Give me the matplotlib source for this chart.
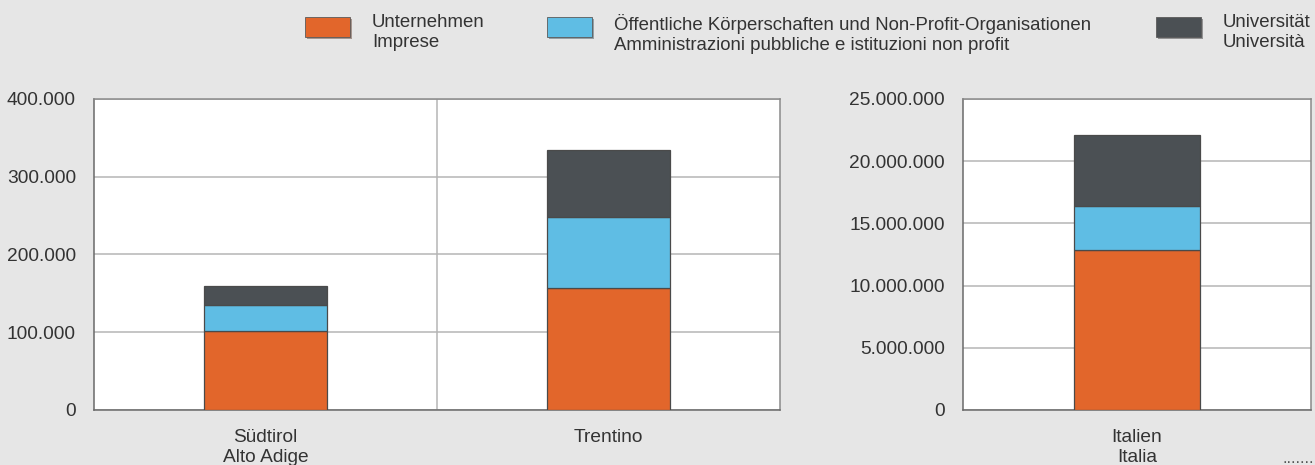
import matplotlib.pyplot as plt
import matplotlib.patches as mpatches
import matplotlib.patheffects as pe
from matplotlib.ticker import FuncFormatter
import numpy as np

plt.rcParams['font.family'] = ['Liberation Sans', 'DejaVu Sans']

# data
regions = ["Südtirol\nAlto Adige", "Trentino"]
imprese_reg = [101000, 157000]
pubblico_reg = [34000, 91000]
univ_reg = [25000, 86000]

country = ["Italien\nItalia"]
imprese_it = [12860000]
pubblico_it = [3540000]
univ_it = [5700000]

legend_labels = ["Unternehmen\nImprese",
                 "Öffentliche Körperschaften und Non-Profit-Organisationen\nAmministrazioni pubbliche e istituzioni non profit",
                 "Universität\nUniversità"]

colors = ["#e2662b", "#5fbde4", "#4b5054"]
bg = "#e6e6e6"
txt = "#333333"
fs = 13.8


def dotfmt(v, pos):
    return "{:,.0f}".format(v).replace(",", ".")


def draw_stack(ax, cats, a, b, c, ymax, step):
    x = np.arange(len(cats))
    w = 0.36
    bottom = np.zeros(len(cats))
    for vals, col in zip([a, b, c], colors):
        ax.bar(x, vals, w, bottom=bottom, color=col, edgecolor="#4a4a4a",
               linewidth=0.9, zorder=3)
        bottom = bottom + np.array(vals)
    ax.set_xlim(-0.5, len(cats) - 0.5)
    ax.set_ylim(0, ymax)
    ax.set_yticks(np.arange(0, ymax + 1, step))
    ax.yaxis.set_major_formatter(FuncFormatter(dotfmt))
    ax.set_xticks(x)
    ax.set_xticklabels(cats, fontsize=fs, color=txt, linespacing=1.2)
    ax.tick_params(axis="y", labelsize=fs, labelcolor=txt, length=0, pad=13)
    ax.tick_params(axis="x", length=0, pad=14)
    ax.grid(axis="y", color="#b5b5b5", linewidth=1.1, zorder=1)
    for k in range(1, len(cats)):
        ax.axvline(k - 0.5, color="#b5b5b5", linewidth=1.1, zorder=1)
    ax.set_facecolor("white")
    for s in ax.spines.values():
        s.set_color("#8a8a8a")
        s.set_linewidth(1.1)
    ax.spines["left"].set_color("#6a6a6a")
    ax.spines["bottom"].set_color("#6a6a6a")


fig = plt.figure(figsize=(13.15, 4.65), dpi=100, facecolor=bg)

ax1 = fig.add_axes([0.0715, 0.1183, 0.5215, 0.6688])
draw_stack(ax1, regions, imprese_reg, pubblico_reg, univ_reg, 400000, 100000)

ax2 = fig.add_axes([0.7323, 0.1183, 0.2647, 0.6688])
draw_stack(ax2, country, imprese_it, pubblico_it, univ_it, 25000000, 5000000)

# legend drawn by hand along the top
W, H = 1315.0, 465.0
patch_x = [305, 547, 1156]
for px, col, lab in zip(patch_x, colors, legend_labels):
    r = mpatches.Rectangle((px / W, 1 - 37 / H), 45 / W, 20 / H,
                           transform=fig.transFigure, facecolor=col,
                           edgecolor="#5a5a5a", linewidth=0.6,
                           path_effects=[pe.SimplePatchShadow(offset=(1.5, -1.5), alpha=0.4),
                                         pe.Normal()])
    fig.patches.append(r)
    fig.text((px + 67) / W, 1 - 14 / H, lab, fontsize=13.4, color=txt,
             va="top", ha="left", linespacing=1.22)

fig.text(1283 / W, 1 - 466 / H, ".......", fontsize=12, color="#555555",
         va="bottom", ha="left")

fig.savefig("out.png", dpi=100, facecolor=bg)
